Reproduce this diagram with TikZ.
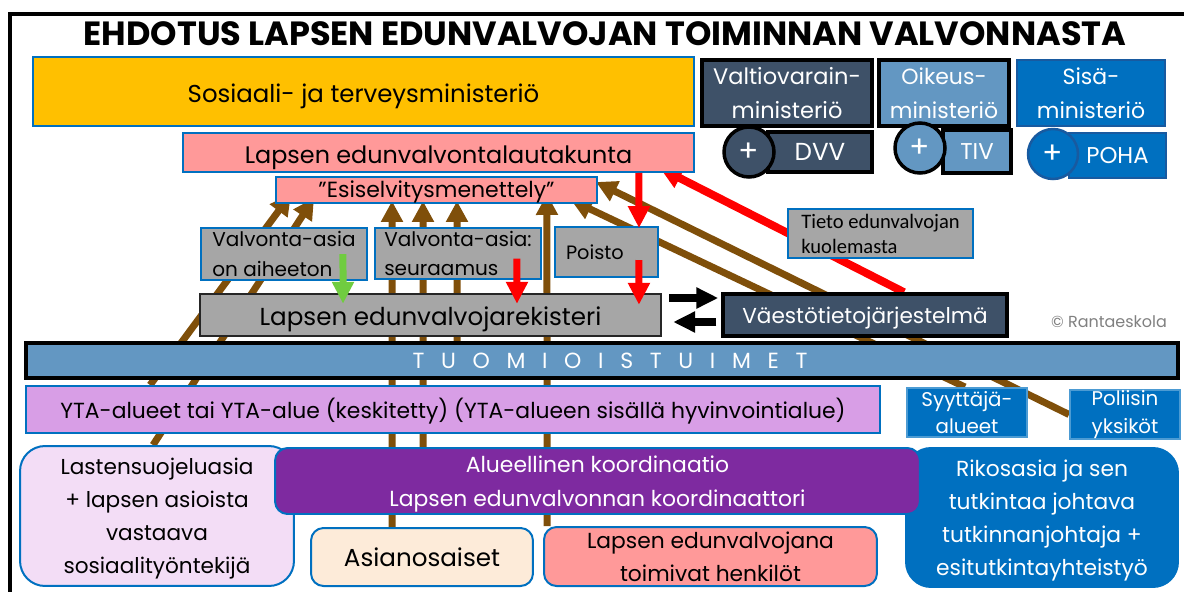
\documentclass[tikz,border=0pt]{standalone}
\usepackage{fontspec}
\setmainfont{Poppins}
\newfontfamily\calibrifont{Carlito}
\usetikzlibrary{arrows.meta,backgrounds}
\definecolor{mycolor1}{RGB}{255,192,0}
\definecolor{mycolor2}{RGB}{0,112,192}
\definecolor{mycolor3}{RGB}{62,81,104}
\definecolor{mycolor4}{RGB}{99,151,194}
\definecolor{mycolor5}{RGB}{255,153,153}
\definecolor{mycolor6}{RGB}{166,166,166}
\definecolor{mycolor7}{RGB}{216,158,230}
\definecolor{mycolor8}{RGB}{243,221,246}
\definecolor{mycolor9}{RGB}{126,42,160}
\definecolor{mycolor10}{RGB}{253,235,217}
\definecolor{mycolor11}{RGB}{127,79,10}
\definecolor{mycolor12}{RGB}{112,204,64}
\definecolor{mycolor13}{RGB}{24,90,160}

\begin{document}
\begin{tikzpicture}[x=0.02cm,y=-0.02cm,
    every node/.style={inner sep=0pt},
    bbox/.style={draw=mycolor2,line width=0.04cm,align=center},
    kbox/.style={draw=black,line width=0.07cm,align=center,text=white},
    rbox/.style={bbox,rounded corners=0.25cm},
    low/.style={text height=#1,text depth=0pt},
    pluscirc/.style={circle,draw=black,line width=0.07cm,minimum size=1cm,
      text=white,font=\fontsize{17}{17}\selectfont},
    brn/.style={draw=mycolor11,line width=0.14cm,-{Triangle[width=0.42cm,length=0.42cm]}},
    redarr/.style={draw=red,line width=0.14cm,-{Triangle[width=0.42cm,length=0.44cm]}},
    grnarr/.style={draw=mycolor12,line width=0.14cm,-{Triangle[width=0.42cm,length=0.44cm]}},
    blkarr/.style={draw=black,line width=0.16cm,-{Triangle[width=0.4cm,length=0.44cm]}}]
      \useasboundingbox (0,0) rectangle (1184,592);

      \node[font=\fontsize{19.1}{20}\selectfont\bfseries] (title) 
      at (605,34) {EHDOTUS LAPSEN EDUNVALVOJAN TOIMINNAN VALVONNASTA};

      % ministeriot
      \node[bbox,fill=mycolor1,minimum width=13.22cm,minimum height=1.38cm,low=13pt,
      font=\fontsize{13.9}{17}\selectfont] (stm) 
      at (363.5,91.5) {Sosiaali- ja terveysministeriö};
      \node[kbox,fill=mycolor3,minimum width=3.4cm,minimum height=1.32cm,
      font=\fontsize{12.8}{19.4}\selectfont] (vm) 
      at (787,93) {Valtiovarain-\\ministeriö};
      \node[kbox,fill=mycolor4,minimum width=2.6cm,minimum height=1.32cm,
      font=\fontsize{12.5}{19.4}\selectfont] (om) 
      at (944,93) {Oikeus-\\ministeriö};
      \node[bbox,draw=mycolor13,fill=mycolor2,text=white,minimum width=2.98cm,
      minimum height=1.32cm,font=\fontsize{12.5}{19.4}\selectfont] (sm) 
      at (1091,93) {Sisä-\\ministeriö};

      \node[kbox,fill=mycolor3,minimum width=2.08cm,minimum height=0.8cm,
      font=\fontsize{14}{14}\selectfont] (dvv) at (820,152) {DVV};
      \node[pluscirc,fill=mycolor3] (dvvc) at (749,152) {+};
      \node[kbox,fill=mycolor4,minimum width=1.36cm,minimum height=0.86cm,
      font=\fontsize{13}{13}\selectfont] (tiv) at (977,151.5) {TIV};
      \node[pluscirc,fill=mycolor4] (tivc) at (920,148) {+};
      \node[bbox,draw=mycolor13,fill=mycolor2,text=white,minimum width=1.94cm,
      minimum height=0.9cm,font=\fontsize{13}{13}\selectfont] (poha) 
      at (1117.5,155.5) {POHA};
      \node[pluscirc,draw=mycolor13,line width=0.05cm,fill=mycolor2] (pohac) 
      at (1053,154) {+};

      % valvonta
      \node[bbox,fill=mycolor5,minimum width=10.22cm,minimum height=0.78cm,low=12pt,
      font=\fontsize{13.6}{17}\selectfont] (ltk) 
      at (438.5,152.5) {Lapsen edunvalvontalautakunta};
      \node[bbox,fill=mycolor5,minimum width=6.42cm,minimum height=0.52cm,low=9pt,
      font=\fontsize{12.5}{14}\selectfont] (esi) 
      at (436.5,190) {”Esiselvitysmenettely”};
      \node[bbox,fill=mycolor6,align=left,minimum width=3.32cm,minimum height=1.04cm,
      font=\fontsize{11.4}{17}\selectfont] (va1) 
      at (284,254) {Valvonta-asia\\on aiheeton};
      \node[bbox,fill=mycolor6,align=left,minimum width=3.32cm,minimum height=1.02cm,
      font=\fontsize{11.4}{17}\selectfont] (va2) 
      at (458,253.5) {Valvonta-asia:\\seuraamus};
      \node[bbox,fill=mycolor6,align=left,text width=1.62cm,minimum width=2.06cm,
      minimum height=1cm,font=\fontsize{11}{13}\selectfont] (poisto) 
      at (606.5,252) {Poisto};
      \node[bbox,fill=mycolor6,align=left,minimum width=3.7cm,minimum height=0.98cm,
      font=\calibrifont\fontsize{11.7}{14.2}\selectfont] (tieto) 
      at (880.5,233.5) {Tieto edunvalvojan\\kuolemasta};

      \node[draw=black!85,line width=0.05cm,fill=mycolor6,minimum width=9.22cm,
      minimum height=0.84cm,low=11.5pt,font=\fontsize{14}{17}\selectfont] (rek) 
      at (430.5,315) {Lapsen edunvalvojarekisteri};
      \node[kbox,fill=mycolor3,minimum width=5.68cm,minimum height=0.84cm,low=10pt,
      font=\fontsize{12.3}{15}\selectfont] (vtj) 
      at (865,315) {Väestötietojärjestelmä};
      \node[text=black!50,font=\fontsize{9.1}{11}\selectfont] (copy) 
      at (1109,322) {© Rantaeskola};

      \node[draw=black,line width=0.08cm,fill=mycolor4,text=white,minimum width=23.04cm,
      minimum height=0.7cm,font=\fontsize{12.5}{14}\selectfont] (tuomio) 
      at (602,360.5) {\spaceskip=9.5pt\relax\hspace{0.32cm}T U O M I O I S T U I M E T};

      % alueet
      \node[bbox,fill=mycolor7,minimum width=17.08cm,minimum height=0.94cm,low=10pt,
      font=\fontsize{12.45}{15}\selectfont] (yta) 
      at (453,409.5) {YTA-alueet tai YTA-alue (keskitetty) (YTA-alueen sisällä hyvinvointialue)};
      \node[bbox,draw=mycolor2!70!white,fill=mycolor2,text=white,minimum width=2.4cm,
      minimum height=0.98cm,font=\fontsize{11.3}{15.4}\selectfont] (syyttaja) 
      at (967,412.5) {Syyttäjä-\\alueet};
      \node[bbox,draw=mycolor2!70!white,fill=mycolor2,text=white,minimum width=2.2cm,
      minimum height=0.98cm,font=\fontsize{11.3}{15.8}\selectfont] (poliisi) 
      at (1125,414.5) {Poliisin\\yksiköt};

      \node[bbox,rounded corners=0.5cm,fill=mycolor8,minimum width=5.48cm,
      minimum height=2.8cm,text depth=0pt,font=\fontsize{12.3}{18.8}\selectfont] (lsj) 
      at (157,516) {Lastensuojeluasia\\+ lapsen asioista\\vastaava\\sosiaalityöntekijä};
      \node[bbox,rounded corners=0.5cm,fill=mycolor2,text=white,minimum width=5.44cm,
      minimum height=2.78cm,text depth=0pt,font=\fontsize{12.4}{18.8}\selectfont] (rikos) 
      at (1042,517.5) {Rikosasia ja sen\\tutkintaa johtava\\tutkinnanjohtaja +\\esitutkintayhteistyö};
      \node[rbox,fill=mycolor9,text=white,minimum width=12.9cm,minimum height=1.32cm,
      text depth=0pt,font=\fontsize{12.45}{19.3}\selectfont] (alue) 
      at (597.5,481) {Alueellinen koordinaatio\\Lapsen edunvalvonnan koordinaattori};
      \node[rbox,fill=mycolor10,minimum width=4.44cm,minimum height=1.16cm,
      font=\fontsize{14}{16}\selectfont] (asian) 
      at (422,557) {Asianosaiset};
      \node[rbox,fill=mycolor5,minimum width=6.66cm,minimum height=1.18cm,
      font=\fontsize{12.4}{18.8}\selectfont] (henk) 
      at (710.5,556.5) {Lapsen edunvalvojana\\toimivat henkilöt};

      % nuolet taustalla
      \begin{scope}[on background layer]
        \draw[line width=0.08cm] (10,600) -- (10,14) -- (1200,14);
        \draw[brn] ([xshift=-6.06cm]yta.north) -- ([xshift=-2.91cm,yshift=0.2cm]esi.south);
        \draw[brn] ([xshift=-0.08cm]lsj.north) -- ([xshift=-2.45cm,yshift=0.12cm]esi.south);
        \draw[brn] ([xshift=-0.6cm]asian.north) -- ([xshift=-0.89cm,yshift=0.06cm]esi.south);
        \draw[brn] ([xshift=-3.49cm]alue.north) -- ([xshift=-0.27cm,yshift=0.06cm]esi.south);
        \draw[brn] ([xshift=-2.9cm]tuomio.north) -- ([xshift=0.41cm,yshift=0.06cm]esi.south);
        \draw[brn] ([xshift=-3.27cm]henk.north) -- ([xshift=2.21cm,yshift=0.2cm]esi.south);
        \draw[brn] ([xshift=-0.04cm]syyttaja.north) -- ([xshift=-0.54cm,yshift=0.08cm]esi.south east);
        \draw[brn] (poliisi.west) -- ([xshift=-0.04cm,yshift=-0.12cm]esi.north east);
        \draw[redarr,line width=0.16cm] ([xshift=0.78cm]vtj.north) -- ([xshift=4.43cm,yshift=0.1cm]ltk.south);
      \end{scope}

      \draw[redarr] ([xshift=4.01cm]ltk.south) -- ([xshift=0.65cm,yshift=-0.04cm]poisto.north);
      \draw[redarr] ([xshift=0.65cm,yshift=-0.16cm]poisto.center) -- ([xshift=4.17cm,yshift=-0.24cm]rek.north);
      \draw[redarr] ([xshift=1.18cm,yshift=-0.1cm]va2.center) -- ([xshift=1.73cm,yshift=-0.22cm]rek.north);
      \draw[grnarr] ([xshift=1.18cm]va1.center) -- ([xshift=-1.75cm,yshift=-0.22cm]rek.north);
      \draw[blkarr] ([xshift=0.14cm,yshift=0.34cm]rek.east) -- ([xshift=-0.06cm,yshift=0.34cm]vtj.west);
      \draw[blkarr] ([xshift=-0.1cm,yshift=-0.14cm]vtj.west) -- ([xshift=0.22cm,yshift=-0.14cm]rek.east);
\end{tikzpicture}
\end{document}
